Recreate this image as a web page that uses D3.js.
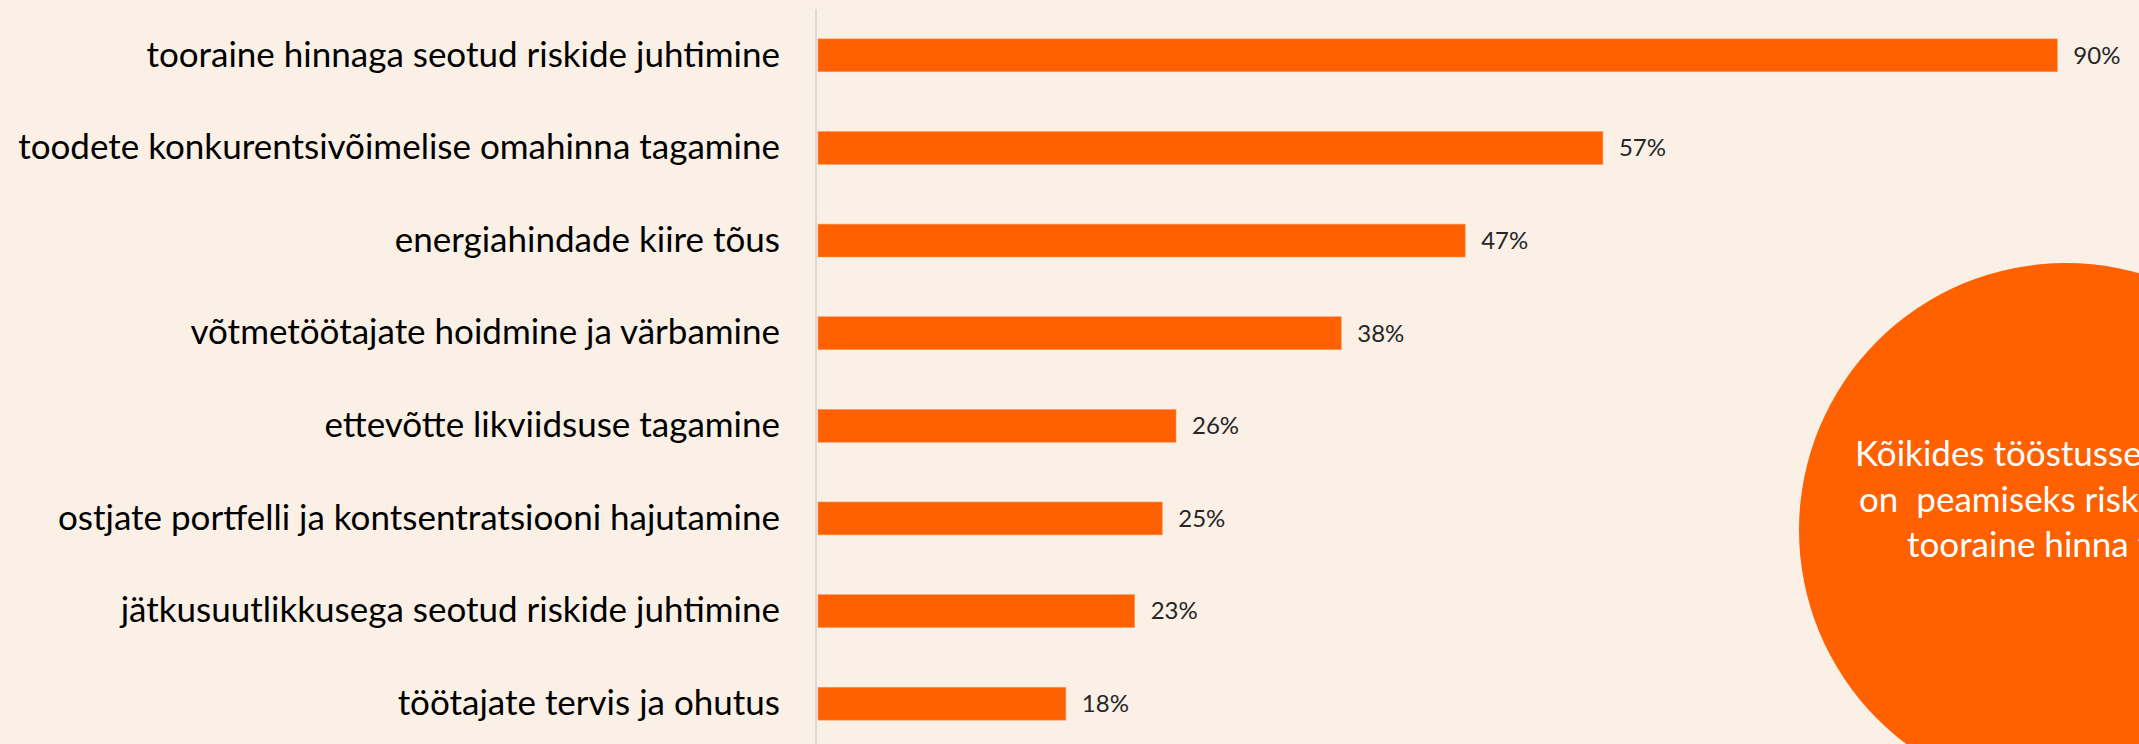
<!DOCTYPE html>
<html>
  <head>
    <meta charset="utf-8">
    <title>Riskid</title>
    <script src="https://d3js.org/d3.v7.min.js"></script>
    <style>
      html, body {
        margin: 0;
        padding: 0;
        background-color: #faf0e6;
        overflow: hidden;
      }
      svg { display: block; font-family: Lato, "Open Sans", sans-serif; }
    </style>
  </head>
  <body>
    <div id="chart"></div>

    <script>
      // risk categories, top to bottom
      var categories = [
        "tooraine hinnaga seotud riskide juhtimine",
        "toodete konkurentsivõimelise omahinna tagamine",
        "energiahindade kiire tõus",
        "võtmetöötajate hoidmine ja värbamine",
        "ettevõtte likviidsuse tagamine",
        "ostjate portfelli ja kontsentratsiooni hajutamine",
        "jätkusuutlikkusega seotud riskide juhtimine",
        "töötajate tervis ja ohutus"
      ];

      // share of companies, %
      var values = [90, 57, 47, 38, 26, 25, 23, 18];

      // callout text in the circle (runs off the right edge)
      var calloutLines = [
        "Kõikides tööstussektorites",
        "on  peamiseks riskiks",
        "tooraine hinna tõus"
      ];

      var width = 2139, height = 744;

      var svg = d3.select("#chart").append("svg")
        .attr("width", width)
        .attr("height", height);

      var x = d3.scaleLinear()
        .domain([0, 100])
        .range([818, 2195]);

      var y = d3.scaleBand()
        .domain(categories)
        .range([9, 750])
        .paddingInner(0.645)
        .paddingOuter(0.3225);

      // circle callout sits behind the bars
      var circ = svg.append("g");
      circ.append("circle")
        .attr("cx", 2066)
        .attr("cy", 530)
        .attr("r", 267)
        .style("fill", "#ff6000");

      circ.selectAll("text")
        .data(calloutLines)
          .enter().append("text")
            .attr("x", function(d, i) { return [1855, 1859, 1907][i]; })
            .attr("y", function(d, i) { return 466 + i * 45.5; })
            .style("fill", "#ffffff")
            .style("font-size", "35px")
            .style("white-space", "pre")
            .text(function(d) { return d; });

      // bars
      svg.selectAll("rect.bar")
        .data(values)
          .enter().append("rect")
            .attr("class", "bar")
            .attr("x", x(0))
            .attr("y", function(d, i) { return y(categories[i]); })
            .attr("width", function(d) { return x(d) - x(0); })
            .attr("height", y.bandwidth())
            .style("fill", "#ff6000")
            .style("stroke", "#ff9a5c")
            .style("stroke-width", 0.6);

      // value labels
      svg.selectAll("text.val")
        .data(values)
          .enter().append("text")
            .attr("class", "val")
            .attr("x", function(d) { return x(d) + 16; })
            .attr("y", function(d, i) { return y(categories[i]) + y.bandwidth() / 2; })
            .attr("dy", "0.35em")
            .style("font-size", "24px")
            .style("fill", "#262626")
            .text(function(d) { return d + "%"; });

      // category axis
      var yAxis = svg.append("g")
        .attr("transform", "translate(816,0)")
        .call(d3.axisLeft(y).tickSize(0).tickSizeOuter(0).tickPadding(36));

      yAxis.select(".domain")
        .attr("d", "M0,9V744")
        .style("stroke", "#d9d9d9")
        .style("stroke-width", 2);

      yAxis.selectAll(".tick text")
        .style("font-family", "Lato, 'Open Sans', sans-serif")
        .style("font-size", "35px")
        .style("fill", "#000000");
    </script>
  </body>
</html>
